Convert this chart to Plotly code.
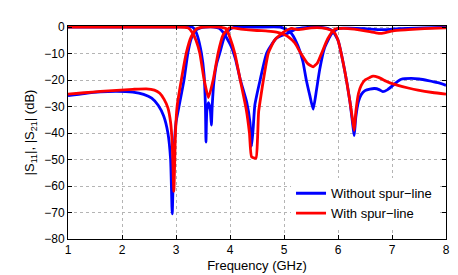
import plotly.graph_objects as go

# ---- data (frequency in GHz, magnitude in dB) ----
# Without spur-line (blue)
blue_s21_f = [1.0, 1.3, 1.6, 1.9, 2.2, 2.4, 2.55, 2.67, 2.77, 2.85, 2.9, 2.93, 2.96, 3.0, 3.06, 3.15,
              3.22, 3.28, 3.35, 3.45, 3.55, 3.7, 3.8, 3.87, 3.95, 4.02, 4.1, 4.19, 4.31, 4.37, 4.4,
              4.43, 4.46, 4.56, 4.68, 4.86, 5.05, 5.23, 5.4, 5.6, 5.8, 5.9, 6.0, 6.12, 6.22, 6.28,
              6.3, 6.33, 6.38, 6.43, 6.5, 6.59, 6.68, 6.76, 6.83, 6.92, 7.02, 7.1, 7.17, 7.36, 7.5,
              7.67, 7.85, 8.0]
blue_s21_db = [-25.9, -25.1, -24.5, -24.3, -24.6, -25.4, -26.8, -29.5, -33.5, -40, -50, -70.5, -48, -36,
               -29.5, -19.8, -9.8, -4.5, -1.5, -0.3, 0, 0, -0.5, -1.9, -4.5, -7.2, -12, -19.8, -28.4,
               -36, -45, -38, -29.5, -19.8, -9.8, -4.2, -2.5, -0.7, -0.2, 0, -0.5, -1.5, -5, -16, -28,
               -38, -41, -34, -28, -25.5, -24, -23.4, -23.2, -23.6, -24.4, -23.6, -22, -20.6, -19.7,
               -19.4, -19.6, -20.2, -21, -22]

blue_s11_f = [1.0, 2.0, 3.0, 3.3, 3.35, 3.4, 3.47, 3.52, 3.545, 3.555, 3.57, 3.6, 3.635, 3.655, 3.67,
              3.7, 3.75, 3.81, 3.9, 4.0, 4.1, 4.5, 4.93, 5.05, 5.14, 5.26, 5.35, 5.41, 5.48, 5.54,
              5.6, 5.66, 5.75, 5.88, 6.0, 6.2, 6.5, 6.8, 7.0, 7.3, 7.6, 8.0]
blue_s11_db = [0, 0, 0, 0, -1, -3.5, -9.8, -18, -30, -43.4, -32, -28.5, -31, -37, -30, -21, -14, -9.8,
               -3.5, -0.8, 0, 0, 0, -1, -2.5, -7.2, -13, -19.7, -26, -31, -24, -16.1, -7.9, -2.6,
               -0.5, -0.4, -0.6, -1.0, -0.8, -0.5, -0.3, -0.1]

# With spur-line (red)
red_s21_f = [1.0, 1.3, 1.6, 1.9, 2.2, 2.45, 2.6, 2.7, 2.78, 2.85, 2.9, 2.93, 2.96, 2.99, 3.02, 3.1,
             3.19, 3.28, 3.38, 3.5, 3.8, 3.93, 4.0, 4.09, 4.2, 4.3, 4.36, 4.4, 4.48, 4.51, 4.53,
             4.58, 4.62, 4.71, 4.83, 4.99, 5.14, 5.26, 5.5, 5.7, 5.85, 5.93, 6.0, 6.12, 6.22, 6.27,
             6.3, 6.33, 6.38, 6.43, 6.5, 6.59, 6.65, 6.75, 6.93, 7.11, 7.3, 7.48, 7.75, 8.0]
red_s21_db = [-25.3, -24.8, -24.3, -23.9, -23.5, -23.3, -23.8, -25, -27.3, -30.5, -36, -44, -62, -40,
              -30, -19.8, -9.8, -3.7, -0.7, 0, 0, -0.7, -4, -10, -21, -31, -40, -49, -49.5, -42, -32,
              -25, -19.8, -9.8, -4.8, -1.9, -0.5, -1.0, -0.3, -0.3, -1.0, -2, -5, -16, -28, -35,
              -39, -32, -25, -22, -20, -19, -18.5, -19, -20.8, -22, -23, -23.8, -24.7, -25.3]

red_s11_f = [1.0, 2.0, 3.0, 3.22, 3.3, 3.37, 3.44, 3.52, 3.6, 3.69, 3.78, 3.87, 3.99, 4.2, 4.5, 4.7,
             4.86, 5.0, 5.08, 5.2, 5.3, 5.44, 5.54, 5.62, 5.69, 5.81, 5.94, 6.1, 6.3, 6.5, 6.7, 6.8,
             6.9, 7.02, 7.3, 7.6, 8.0]
red_s11_db = [0, 0, 0, -0.3, -2, -5, -9.8, -19.8, -26.6, -19.8, -9.8, -3.1, -0.3, -0.8, -1.3, -1.5,
              -1.9, -2.8, -3.7, -6, -9.5, -13.8, -15, -13.5, -10.2, -4.4, -0.8, -0.5, -0.8, -1.4,
              -2.2, -2.4, -2.0, -1.4, -1.0, -0.6, -0.3]

x_ticks = [1, 2, 3, 4, 5, 6, 7, 8]
y_ticks = [0, -10, -20, -30, -40, -50, -60, -70, -80]

BLUE = "#0000ff"
RED = "#ff0000"
LW = 2.8
shape = dict(shape="spline", smoothing=0.5)

fig = go.Figure()
fig.add_trace(go.Scatter(x=blue_s21_f, y=blue_s21_db, mode="lines", name="Without spur−line",
                         line=dict(color=BLUE, width=LW, **shape), showlegend=True))
fig.add_trace(go.Scatter(x=blue_s11_f, y=blue_s11_db, mode="lines", name="Without spur−line",
                         line=dict(color=BLUE, width=LW, **shape), showlegend=False))
fig.add_trace(go.Scatter(x=red_s21_f, y=red_s21_db, mode="lines", name="With spur−line",
                         line=dict(color=RED, width=LW, **shape), showlegend=True))
fig.add_trace(go.Scatter(x=red_s11_f, y=red_s11_db, mode="lines", name="With spur−line",
                         line=dict(color=RED, width=LW, **shape), showlegend=False))

axis_common = dict(showline=True, linecolor="black", linewidth=1, mirror="ticks",
                   ticks="inside", ticklen=4, tickcolor="black",
                   showgrid=True, gridcolor="#b4b4b4", gridwidth=1, griddash="dot",
                   zeroline=False, tickfont=dict(size=12, color="black"))

fig.update_xaxes(range=[1, 8], tickvals=x_ticks,
                 title=dict(text="Frequency (GHz)", font=dict(size=13, color="black"), standoff=4),
                 **axis_common)
fig.update_yaxes(range=[-80, 0.4], tickvals=y_ticks,
                 title=dict(text="|S<sub>11</sub>|, |S<sub>21</sub>| (dB)",
                            font=dict(size=13, color="black"), standoff=6),
                 **axis_common)

fig.update_layout(
    width=458, height=275,
    margin=dict(l=60, r=20, t=13, b=34),
    paper_bgcolor="white", plot_bgcolor="white",
    font=dict(family="Liberation Sans, Arial, sans-serif", color="black"),
    legend=dict(x=0.59, y=0.285, xanchor="left", yanchor="top", bgcolor="white",
                borderwidth=0, font=dict(size=13), tracegroupgap=0, itemwidth=30),
)

fig.write_html("out.html")
